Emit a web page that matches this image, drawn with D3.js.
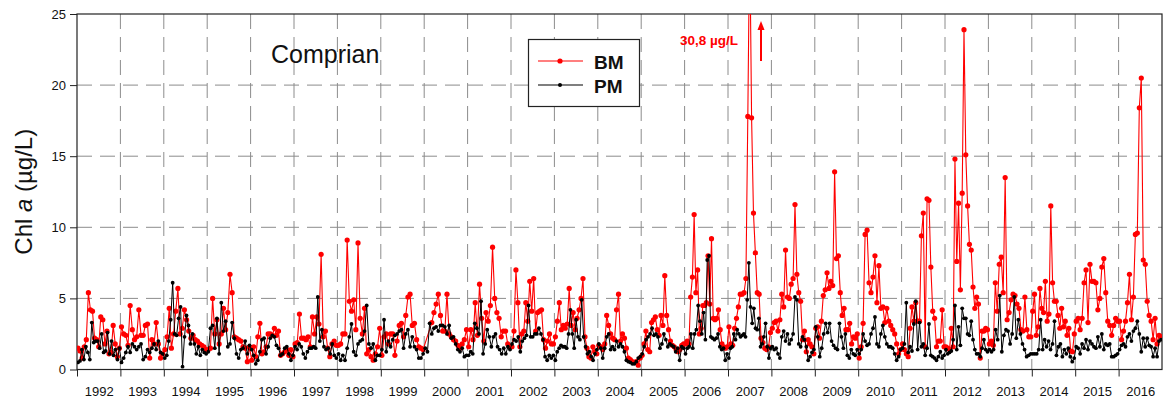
<!DOCTYPE html>
<html>
<head>
<meta charset="utf-8">
<script src="https://cdn.jsdelivr.net/npm/d3@7"></script>
<style>
  body { margin: 0; background: #fff; }
  svg { display: block; font-family: "Liberation Sans", Arial, sans-serif; }
  .grid line { stroke: #8c8c8c; stroke-width: 1; stroke-dasharray: 15,8; }
  .axis path, .axis line { stroke: #222; }
  .axis text { fill: #111; }
</style>
</head>
<body>
<div id="chart"></div>
<script>
// one entry per sampling year, values in µg/L, samples spread evenly over the year
const years = [1992,1993,1994,1995,1996,1997,1998,1999,2000,2001,2002,2003,2004,
               2005,2006,2007,2008,2009,2010,2011,2012,2013,2014,2015,2016];
const yTicks = [0,5,10,15,20,25];

// BM (red)
const bm = [
  [1.5,1.3,0.8,1.6,2.1,5.4,4.2,4.1,2.2,2.1,1.6,3.7,3.5,1.8,2.7,1.1,1.2,3.1,1.8,0.9,1.5],
  [3.0,2.5,2.4,1.7,4.5,2.8,2.1,2.3,4.2,2.4,2.4,3.1,3.2,0.8,2.1,1.8,3.3,1.8,0.8,1.1],
  [1.4,2.3,4.3,1.5,2.5,4.1,5.7,2.5,2.9,4.2,3.5,2.7,2.2,2.4,2.1,2.0,1.8,1.7,1.6,1.4],
  [1.4,1.5,5.0,2.5,3.5,1.8,2.5,4.3,2.8,4.0,6.7,5.4,2.3,2.2,2.1,2.0,1.6,1.5,0.55,1.6],
  [0.65,1.6,0.9,2.3,3.25,1.1,1.25,1.6,2.5,2.5,2.4,2.9,2.4,2.7,1.0,1.1,1.25,1.4,1.0,1.4,0.9],
  [1.8,1.9,3.9,2.2,2.2,2.1,2.3,1.6,3.7,2.5,3.7,3.2,8.1,2.3,2.7,1.5,0.9,1.8,2.0,1.7],
  [1.7,1.8,2.5,2.5,9.1,4.8,4.1,4.9,2.8,8.9,3.6,2.5,4.3,1.1,1.4,0.9,0.65,1.1,1.6,2.9],
  [1.0,2.3,2.5,1.8,2.5,2.5,1.0,2.0,3.1,3.25,2.3,3.8,5.1,5.3,3.1,3.25,2.1,1.6,1.5,1.4],
  [null,null,null,3.3,4.0,4.6,5.3,3.8,2.7,2.7,5.3,2.5,2.3,2.1,2.0,1.7,1.5,1.8,2.1,2.8],
  [1.6,2.8,2.1,4.7,2.4,6.0,3.6,2.0,4.0,3.4,4.5,8.6,5.0,4.0,3.6,2.3,2.7,2.7,1.8,1.6],
  [1.6,2.7,7.0,4.7,1.6,2.5,2.7,4.7,3.4,6.2,4.1,6.4,2.7,4.0,4.1,4.2,2.1,1.5,2.0,2.5,1.8,1.8],
  [2.3,3.4,4.7,2.8,3.1,2.9,3.2,5.7,3.1,4.0,2.8,3.6,4.2,5.0,6.4,2.3,1.5,0.9,0.8,1.6,1.25,1.1],
  [1.7,1.6,1.4,1.8,3.8,3.1,2.5,2.2,2.1,4.2,5.3,2.0,2.5,2.2,1.5,0.8,0.7,0.55,0.5,0.55,0.3,0.8],
  [1.0,1.8,2.7,1.4,1.25,3.3,3.5,3.7,2.8,2.4,3.8,3.1,6.6,3.8,2.8,2.0,1.7,1.6,1.4,1.25,1.4,1.7,1.8],
  [1.8,2.0,1.8,5.1,6.5,10.9,5.4,7.0,2.5,2.9,4.5,4.5,4.7,8.0,4.6,9.2,3.6,3.5,3.6,4.2,2.8,1.8,1.6,1.5,1.6],
  [3.0,1.8,1.7,2.9,3.6,4.4,5.3,5.3,5.4,6.4,17.8,30.8,17.7,11.0,8.2,5.4,5.3,2.2,1.9,1.5,1.4,1.6,2.6],
  [2.9,3.3,3.4,2.7,3.5,5.3,4.4,8.4,5.1,5.0,6.0,6.4,11.6,6.7,5.4,4.8,2.1,2.7,1.25,2.1,1.8,1.6,1.1],
  [2.9,3.0,2.2,3.4,5.2,5.6,6.8,5.7,6.2,5.9,13.9,7.8,8.0,5.4,3.8,4.3,2.8,2.8,3.25,1.8,2.3,2.2,2.5],
  [0.8,1.6,3.25,9.5,9.8,6.1,5.4,6.5,8.0,4.7,7.3,4.3,4.4,3.3,4.3,3.4,3.1,2.8,2.5,1.8,1.1,1.4],
  [1.8,1.4,1.1,0.9,2.9,4.4,3.4,4.7,3.4,3.4,9.4,11.0,1.6,12.0,11.9,7.2,4.1,3.6,1.6,2.0,2.0,4.2,1.6],
  [1.6,1.5,1.4,2.9,1.6,14.8,7.6,11.7,5.6,12.4,23.9,15.1,11.5,8.8,8.4,5.8,4.3,5.1,4.6,0.8,2.7,2.7,2.9,2.8],
  [1.8,2.0,1.7,6.1,4.1,7.4,7.9,5.4,13.5,3.5,4.0,4.9,5.3,5.2,4.6,4.3,2.8,2.7,5.1,2.8,2.3,2.3],
  [4.1,5.3,2.4,3.0,5.7,4.3,4.0,6.2,3.4,3.9,11.5,6.1,4.8,4.8,3.8,2.9,4.3,3.0,3.4,2.4,2.9,1.3,1.25,2.5],
  [3.4,3.6,2.8,3.6,6.1,7.0,3.3,7.4,6.2,6.2,6.1,4.2,5.0,7.2,7.8,5.4,3.4,3.1,2.4,3.1,3.6,3.4],
  [3.4,2.1,2.7,3.4,4.7,6.7,3.5,5.1,9.5,9.6,18.4,20.5,7.7,7.4,4.8,3.8,3.4,2.1,3.6,1.8,2.4,2.3]
];

// PM (black)
const pm = [
  [0.5,0.6,1.4,0.7,1.6,1.2,0.7,3.3,1.9,2.0,2.0,1.5,2.5,1.2,1.3,2.6,1.1,2.0,1.0,1.4,0.7,1.5],
  [0.5,0.8,1.2,1.6,1.2,1.8,1.6,1.4,1.6,1.8,0.7,0.9,1.4,1.2,1.5,1.8,1.4,2.0,1.2,1.1],
  [0.8,1.0,2.0,3.5,6.1,2.5,2.4,3.6,4.4,0.2,2.3,3.8,3.1,1.8,2.5,1.8,1.1,1.6,1.0,1.4,1.2,1.1],
  [1.25,2.9,3.1,1.5,3.6,1.1,4.7,2.7,3.4,1.6,1.8,3.3,2.2,1.1,0.8,1.4,1.5,2.0,1.1,1.7],
  [1.4,1.0,0.4,0.65,1.25,2.1,2.2,1.1,1.6,2.2,2.4,2.3,1.7,1.5,1.0,1.1,1.5,1.6,1.1,0.65,1.0],
  [1.6,1.4,1.8,1.6,1.1,0.8,1.25,1.5,1.5,1.6,1.5,5.1,2.0,2.8,1.6,1.4,1.5,1.1,1.8,1.0,0.8],
  [1.1,0.65,1.0,0.65,1.5,2.3,3.2,1.25,1.0,1.8,2.0,2.1,2.7,4.5,1.8,1.5,1.8,0.65,1.0,1.0],
  [1.4,3.5,1.25,2.0,1.6,2.1,2.4,2.5,2.7,2.8,1.5,2.5,2.8,1.6,2.3,1.6,1.4,0.8,0.8,1.1],
  [1.5,1.25,3.25,2.5,2.9,3.0,2.7,3.1,3.1,3.0,2.5,3.1,2.2,2.3,1.8,1.4,1.25,1.5,0.9,1.0],
  [1.0,1.25,1.1,3.25,2.9,2.5,4.8,1.1,1.8,2.8,2.3,1.6,2.3,2.5,1.6,1.4,1.1,1.5,1.1,1.6,1.4],
  [1.8,2.1,2.0,2.3,1.25,2.0,2.2,2.4,4.5,2.3,2.3,2.5,2.5,2.9,2.5,2.1,0.9,0.65,1.0,0.8,1.0],
  [0.65,1.25,1.5,1.7,1.6,1.6,1.5,2.5,4.2,2.5,1.5,3.5,2.3,2.1,4.9,2.3,1.6,1.1,1.25,0.9,0.65,1.1,1.4],
  [1.8,1.5,0.8,1.5,2.3,2.5,1.4,1.6,1.4,2.0,1.6,1.8,1.6,1.25,0.65,0.55,0.5,0.4,0.4,0.55,0.8,0.9],
  [1.1,1.6,2.1,2.3,2.5,2.9,2.4,2.5,2.3,1.5,1.8,2.5,2.1,1.6,1.8,1.7,1.6,1.25,1.5,0.65,1.6,1.5],
  [1.1,1.5,1.6,2.5,1.5,2.5,2.8,4.5,3.4,2.5,4.0,2.1,7.7,8.0,2.3,2.2,2.1,2.2,2.5,1.6,1.4,1.5,0.65,1.1],
  [0.8,1.5,1.6,2.5,2.1,2.8,2.5,2.3,2.4,2.5,2.3,4.9,7.5,4.4,3.25,4.3,2.9,2.8,3.6,1.6,1.8,2.3,3.25,1.6,0.8,1.5],
  [1.6,1.4,1.5,1.1,0.8,2.3,2.7,2.0,2.5,1.8,2.1,2.5,5.1,4.9,1.8,1.6,2.3,2.1,1.6,0.65,0.9,1.2,1.4],
  [3.0,2.3,0.9,1.5,2.5,3.25,2.6,3.25,2.0,1.7,1.5,1.4,3.25,2.3,1.5,2.5,1.0,0.8,1.4,1.1,1.0,1.4],
  [1.1,1.4,2.5,2.0,1.7,1.8,2.5,2.9,3.7,1.8,1.6,2.5,3.1,2.3,1.8,1.6,1.6,1.5,1.1,0.65,0.9,1.4],
  [1.5,1.8,4.7,1.2,1.6,1.3,3.2,4.8,1.4,3.3,1.6,1.8,1.0,1.5,3.2,1.0,0.9,0.8,0.65,0.9,1.25,0.8,1.0],
  [1.4,1.1,1.2,1.3,2.1,4.5,1.4,3.0,1.7,4.3,3.6,3.6,2.5,2.4,3.4,2.1,1.4,1.1,1.1,0.9,1.5,2.1,1.4,1.25],
  [1.4,1.25,1.4,2.8,2.1,5.2,1.25,2.4,2.8,2.7,1.8,2.5,5.1,2.2,3.5,2.5,1.8,1.4,0.9,1.0,1.1],
  [1.1,1.1,1.1,1.4,3.5,1.4,2.1,1.6,2.0,1.4,1.8,3.4,1.0,1.6,1.8,0.9,1.4,1.1,1.5,0.9,0.55,0.8],
  [1.6,1.5,1.1,1.8,1.5,2.1,1.4,2.0,1.8,1.6,1.5,2.3,1.6,2.5,1.4,1.8,1.7,1.8,0.9,0.9,1.0,1.1],
  [1.4,1.7,1.8,1.6,2.3,2.5,2.0,2.7,2.9,3.4,2.5,1.25,2.2,1.6,2.2,1.7,1.6,0.9,1.5,0.9,2.0,2.1]
];

const peakLabel = "30,8 µg/L";

// flatten to {t, v}, each year's samples placed at the middle of equal slots
function toPoints(series) {
  const out = [];
  series.forEach((vals, k) => {
    vals.forEach((v, i) => {
      if (v !== null) out.push({ t: years[k] + (i + 0.5) / vals.length, v: v });
    });
  });
  return out;
}

const W = 1167, H = 398;
const margin = { top: 14, right: 5, bottom: 28.5, left: 77 };
const width = W - margin.left - margin.right;
const height = H - margin.top - margin.bottom;

const svg = d3.select("#chart").append("svg").attr("width", W).attr("height", H);
const g = svg.append("g").attr("transform", `translate(${margin.left},${margin.top})`);

const x = d3.scaleLinear().domain([years[0], years[years.length - 1] + 1]).range([0, width]);
const y = d3.scaleLinear().domain([0, 25]).range([height, 0]);

// grid
const grid = g.append("g").attr("class", "grid");
grid.selectAll(".vg").data(years.slice(1)).join("line")
  .attr("x1", d => x(d)).attr("x2", d => x(d))
  .attr("y1", 0).attr("y2", height);
grid.selectAll(".hg").data(yTicks.slice(1, -1)).join("line")
  .attr("x1", 0).attr("x2", width)
  .attr("y1", d => y(d)).attr("y2", d => y(d));

// axes
g.append("g").attr("class", "axis")
  .call(d3.axisLeft(y).tickValues(yTicks).tickSize(7).tickSizeOuter(0).tickPadding(4))
  .call(a => a.select(".domain").remove())
  .selectAll("text").attr("font-size", 13);

g.append("g").attr("class", "axis")
  .attr("transform", `translate(0,${height})`)
  .call(d3.axisBottom(x).tickValues(years).tickSize(7).tickSizeOuter(0).tickFormat(""))
  .call(a => a.select(".domain").remove());

g.append("g").attr("class", "axis")
  .attr("transform", `translate(0,${height})`)
  .call(d3.axisBottom(x).tickValues(years.map(d => d + 0.5)).tickSize(0).tickPadding(17)
    .tickFormat(d => Math.floor(d)))
  .call(a => a.select(".domain").remove())
  .selectAll("text").attr("font-size", 13);

// frame
g.append("rect").attr("width", width).attr("height", height)
  .attr("fill", "none").attr("stroke", "#222").attr("stroke-width", 1.2);

// series
svg.append("defs").append("clipPath").attr("id", "clip")
  .append("rect").attr("width", width).attr("height", height);

const line = d3.line().x(d => x(d.t)).y(d => y(d.v));
const plot = g.append("g").attr("clip-path", "url(#clip)");

function drawSeries(data, color, lw, r) {
  plot.append("path").datum(data)
    .attr("fill", "none").attr("stroke", color).attr("stroke-width", lw)
    .attr("d", line);
  plot.append("g").selectAll("circle").data(data).join("circle")
    .attr("cx", d => x(d.t)).attr("cy", d => y(d.v)).attr("r", r)
    .attr("fill", color);
}
drawSeries(toPoints(bm), "#ff0000", 1.1, 2.6);
drawSeries(toPoints(pm), "#000000", 1.0, 1.9);

// y title
svg.append("text")
  .attr("transform", `translate(32,${margin.top + height / 2}) rotate(-90)`)
  .attr("text-anchor", "middle").attr("font-size", 24).attr("fill", "#111")
  .html('Chl <tspan font-style="italic">a</tspan> (µg/L)');

// site name
svg.append("text").attr("x", 271).attr("y", 63)
  .attr("font-size", 25).attr("fill", "#111").text("Comprian");

// legend
const lg = svg.append("g");
lg.append("rect").attr("x", 528.5).attr("y", 39.5).attr("width", 111).attr("height", 67)
  .attr("fill", "#fff").attr("stroke", "#222").attr("stroke-width", 1.2);
[["BM", "#ff0000", 2.6, 61], ["PM", "#000000", 2.0, 85]].forEach(([name, c, r, ly]) => {
  lg.append("line").attr("x1", 538).attr("x2", 583).attr("y1", ly).attr("y2", ly)
    .attr("stroke", c).attr("stroke-width", 1.1);
  lg.append("circle").attr("cx", 560).attr("cy", ly).attr("r", r).attr("fill", c);
  lg.append("text").attr("x", 594).attr("y", ly + 7.5)
    .attr("font-size", 19).attr("font-weight", "bold").attr("fill", "#111").text(name);
});

// peak note
svg.append("text").attr("x", 680).attr("y", 45)
  .attr("font-size", 13.5).attr("font-weight", "bold").attr("fill", "#ff0000").text(peakLabel);
svg.append("line").attr("x1", 761).attr("x2", 761).attr("y1", 61).attr("y2", 29)
  .attr("stroke", "#ff0000").attr("stroke-width", 2);
svg.append("path").attr("d", "M757.5,30 L761,21 L764.5,30 Z").attr("fill", "#ff0000");
</script>
</body>
</html>
